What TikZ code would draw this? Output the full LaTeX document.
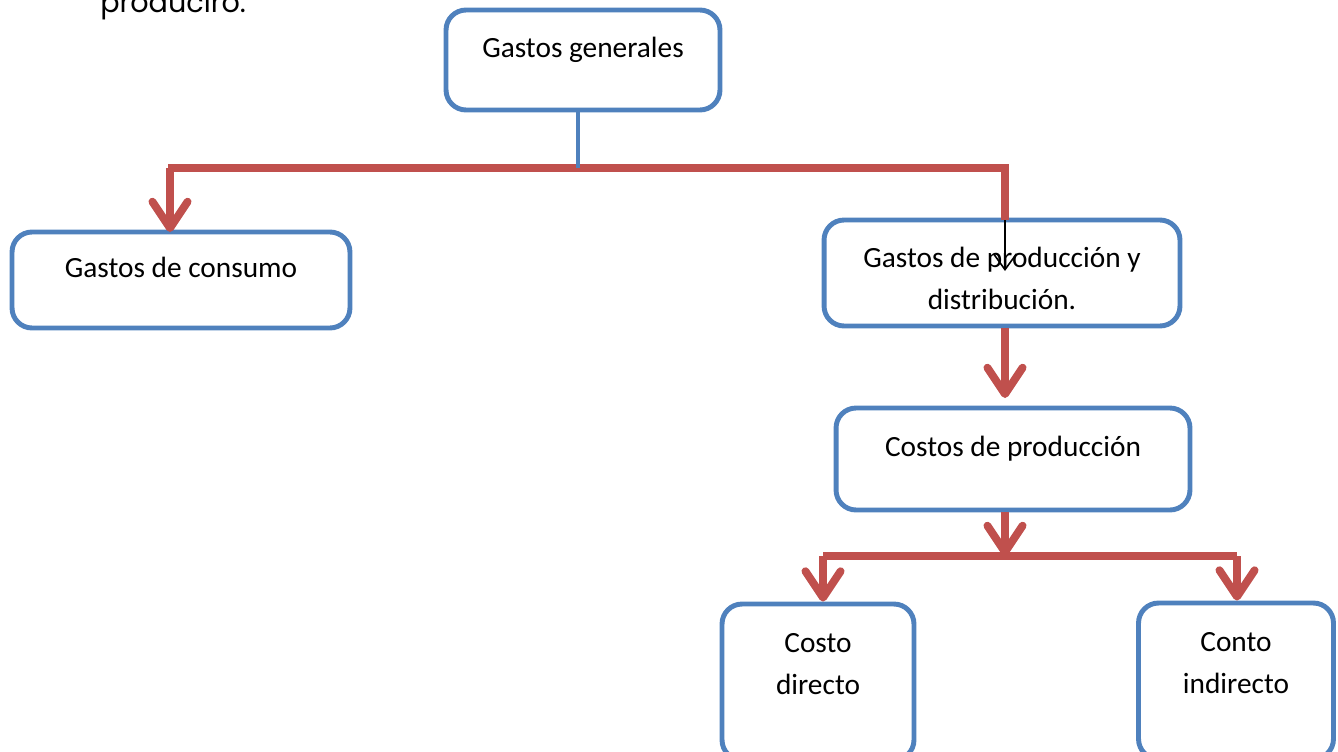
\documentclass[tikz,border=0pt]{standalone}
\usepackage{fontspec}
\setmainfont{Carlito}
\newfontfamily\topfont{Poppins}
\usetikzlibrary{arrows.meta}
\definecolor{boxblue}{HTML}{4F81BD}
\definecolor{arrowred}{HTML}{C0504D}
\tikzset{
  box/.style={draw=boxblue, line width=2.8pt, rounded corners=0.4cm, fill=white,
    align=center, font=\fontsize{16.7}{24.1}\selectfont},
  redline/.style={draw=arrowred, line width=4.5pt},
  redarrow/.style={redline, -{Straight Barb[round,length=15pt,width=20pt]}},
  thinarrow/.style={draw=black, line width=0.9pt, -{Straight Barb[length=9pt,width=13pt]}}
}
\begin{document}
\begin{tikzpicture}[x=0.02cm,y=-0.02cm]
                        \useasboundingbox (0,0) rectangle (1338,751);
                        
                        % Marking text cut at the top
                        \node [anchor=base west, inner sep=0pt, font=\topfont\fontsize{16.3}{20}\selectfont] (cut) at (100,12) {produciro.};%
                        
                        % Marking box Gastos generales
                        \node [box, minimum width=5.48cm, minimum height=2.0cm, text depth=0.5cm] (gg) at (583,60) {Gastos generales};%
                        
                        % Marking box Gastos de consumo
                        \node [box, minimum width=6.76cm, minimum height=1.92cm, text depth=0.5cm] (gc) at (181,280) {Gastos de consumo};%
                        
                        % Marking box Gastos de produccion y distribucion
                        \node [box, minimum width=7.12cm, minimum height=2.12cm, text height=1.46cm, text depth=0cm] (gpd) at (1002,273) {Gastos de producción y\\distribución.};%
                        
                        % Marking box Costos de produccion
                        \node [box, minimum width=7.08cm, minimum height=2.04cm, text depth=0.52cm] (cp) at (1013,459) {Costos de producción};%
                        
                        % Marking box Costo directo
                        \node [box, minimum width=3.84cm, minimum height=3.12cm, text depth=0.71cm] (cd) at (818,682) {Costo\\directo};%
                        
                        % Marking box Conto indirecto
                        \node [box, minimum width=3.9cm, minimum height=3.12cm, text depth=0.73cm] (ci) at (1236,681) {Conto\\indirecto};%
                        
                        % Marking joints
                        \coordinate (top) at (578,168);%
                        \coordinate (topleft) at (168,168);%
                        \coordinate (topright) at (1005,168);%
                        \coordinate (gpdin) at (1005,220);%
                        \coordinate (low) at (1005,556);%
                        \coordinate (lowleft) at (823,556);%
                        \coordinate (lowright) at (1237,556);%
                        
                        % Drawing red branch at the top
                        \draw [redline] (topleft) -- (topright) -- (gpdin);%
                        \draw [redarrow] (topleft -| 170,0) -- (170,232);%
                        
                        % Drawing blue stem
                        \draw [draw=boxblue, line width=2.8pt] (gg.south -| top) -- (top);%
                        
                        % Drawing thin arrow
                        \draw [thinarrow] (gpdin) -- (1005,271);%
                        
                        % Drawing red arrow to Costos de produccion
                        \draw [redarrow] (gpd.south -| gpdin) -- (1005,398);%
                        
                        % Drawing red branch at the bottom
                        \draw [redarrow] (cp.south -| low) -- (low);%
                        \draw [redline] (lowleft) -- (lowright);%
                        \draw [redarrow] (lowleft) -- (cd.north -| lowleft);%
                        \draw [redarrow] (lowright) -- (ci.north -| lowright);%
                        \end{tikzpicture}
\end{document}
